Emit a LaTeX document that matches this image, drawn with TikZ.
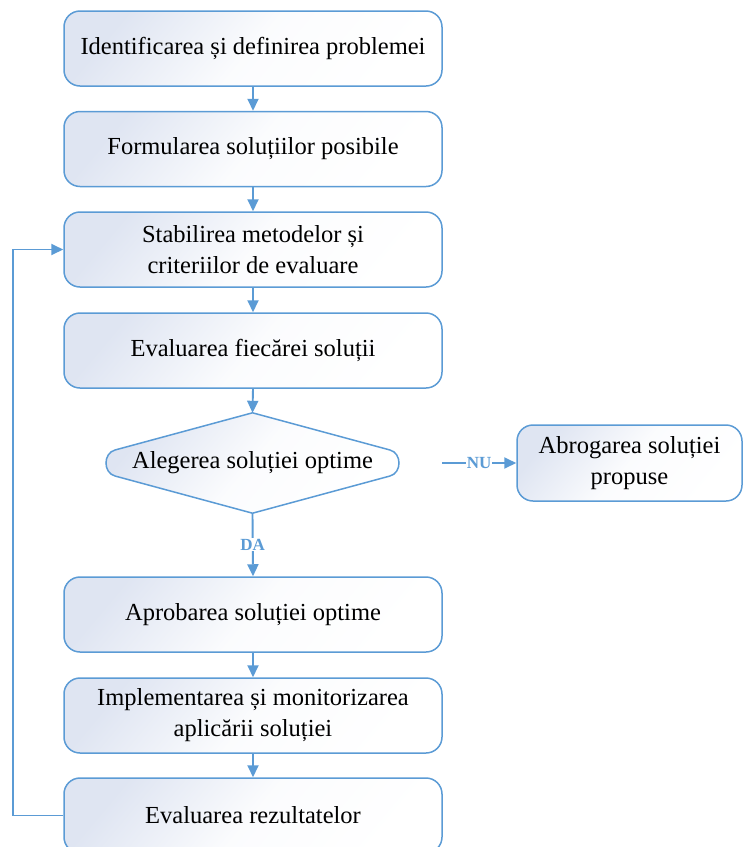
\documentclass[tikz,border=0pt]{standalone}
\usepackage{fontspec}
\setmainfont{Liberation Serif}
\usetikzlibrary{arrows.meta}
\definecolor{lineblue}{HTML}{5B9BD5}
\definecolor{fillblue}{HTML}{DFE5F2}
\begin{document}
\begin{tikzpicture}[x=1pt,y=1pt,
  boxstyle/.style={draw=lineblue, line width=1.5pt, rounded corners=16pt,
    minimum width=378pt, minimum height=75pt, align=center, inner sep=2pt,
    top color=fillblue, bottom color=white, middle color=fillblue!12!white, shading angle=50,
    font=\fontsize{24.5}{31}\selectfont},
  conn/.style={draw=lineblue, line width=1.9pt, -{Triangle[length=12pt,width=11pt]}},
  lbl/.style={fill=white, inner sep=1pt, text=lineblue, font=\fontsize{17}{19}\selectfont\bfseries}
]
\clip (0,0) rectangle (744,-847);
\node[boxstyle] (b1) at (253,-48.5) {Identificarea și definirea problemei};
\node[boxstyle] (b2) at (253,-149) {Formularea soluțiilor posibile};
\node[boxstyle] (b3) at (253,-249.5) {Stabilirea metodelor și\\criteriilor de evaluare};
\node[boxstyle] (b4) at (253,-350.5) {Evaluarea fiecărei soluții};
% decision
\node[minimum width=291pt, minimum height=100pt, inner sep=0pt] (dec) at (252.5,-463) {};
\path[draw=lineblue, line width=1.5pt, top color=fillblue, bottom color=white,
  middle color=fillblue!12!white, shading angle=50]
  (dec.north) -- (115,-450) .. controls (103,-453.2) and (103,-472.8) .. (115,-476)
  -- (dec.south) -- (390,-476) .. controls (402,-472.8) and (402,-453.2) .. (390,-450)
  -- cycle;
\node[font=\fontsize{24.5}{31}\selectfont] (dectext) at (dec.center) {Alegerea soluției optime};
\node[boxstyle, minimum width=225pt, minimum height=76pt] (ab) at (629.5,-463) {Abrogarea soluției\\propuse};
\node[boxstyle] (b5) at (253,-614.5) {Aprobarea soluției optime};
\node[boxstyle] (b6) at (253,-715.5) {Implementarea și monitorizarea\\aplicării soluției};
\node[boxstyle] (b7) at (253,-815.5) {Evaluarea rezultatelor};
\coordinate (nustart) at (442,-463);
% connectors
\draw[conn] (b1.south) -- (b2.north);
\draw[conn] (b2.south) -- (b3.north);
\draw[conn] (b3.south) -- (b4.north);
\draw[conn] (b4.south) -- (dec.north);
\draw[conn] (dec.south) -- node[lbl]{DA} (b5.north);
\draw[conn] (nustart) -- node[lbl]{NU} (ab.west);
\draw[conn] (b5.south) -- (b6.north);
\draw[conn] (b6.south) -- (b7.north);
\draw[conn] (b7.west) -- ++(-50.5,0) |- (b3.west);
\end{tikzpicture}
\end{document}
